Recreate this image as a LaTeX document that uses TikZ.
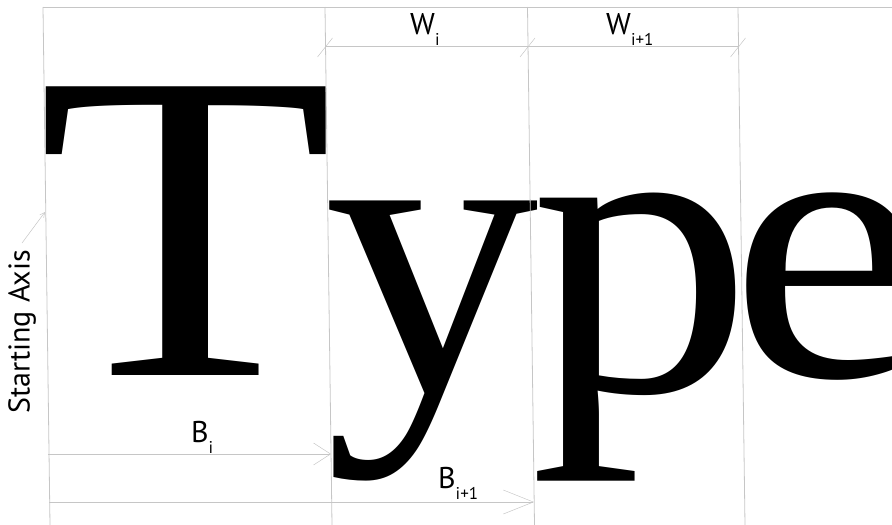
\documentclass[tikz,border=0pt]{standalone}
\usepackage{fontspec}
\usepackage{graphicx}
\setmainfont{PT Sans}
\newfontfamily\glyphfont{Liberation Serif}
\usetikzlibrary{arrows.meta}

\newcommand{\lowsub}[1]{\raisebox{-11pt}{\fontsize{17}{17}\selectfont #1}}

\begin{document}
\begin{tikzpicture}[x=1pt, y=-1pt,
    guide/.style={gray!45, line width=0.8pt},
    glyph/.style={inner sep=0pt, outer sep=0pt, anchor=north west, font=\glyphfont},
    lbl/.style={inner sep=0pt, anchor=base west, font=\fontsize{30}{30}\selectfont}]
    \useasboundingbox (0,0) rectangle (892,525);

    % the word, one letter per box
    \begin{scope}
    \clip (0,0) rectangle (892,525);
    \node[glyph] (T) at (37.8,87) {\resizebox{296pt}{288pt}{T}};
    \node[glyph] (y) at (324,201) {\resizebox*{214.7pt}{279pt}{y}};
    \node[glyph] (p) at (530.8,193) {\resizebox*{222.6pt}{287pt}{p}};
    \node[glyph] (e) at (729,193) {\resizebox*{196pt}{187pt}{e}};
    \end{scope}

    % axes
    \foreach \n/\x in {0/43, 1/325, 2/527.5, 3/738} {
        \coordinate (t\n) at (\x,7);
        \coordinate (b\n) at (\x+7,525);
        \draw[guide] (t\n) -- (b\n);
    }
    \coordinate (tr) at (892,7);
    \draw[guide] (t0) -- (tr);

    % widths
    \coordinate (w1) at (325.5,46);
    \coordinate (w2) at (528,46);
    \coordinate (w3) at (738.5,46);
    \draw[guide] (w1) -- (w3);
    \foreach \w in {w1,w2,w3} {
        \draw[guide, line width=0.5pt] (\w) ++(-8,11) -- ++(15,-19);
    }
    \node[lbl] (wi) at (410,34) {W\lowsub{i}};
    \node[lbl] (wj) at (606,34) {W\lowsub{i+1}};

    % advances
    \coordinate (bi0) at (48.3,454);
    \coordinate (bi) at (331,454);
    \draw[guide, -{Straight Barb[length=17pt, width=22pt, line width=0.5pt]}] (bi0) -- (bi);
    \node[lbl] (bil) at (191,442) {B\lowsub{i}};
    \coordinate (bj0) at (49,502);
    \coordinate (bj) at (534,502);
    \draw[guide, -{Straight Barb[length=30pt, width=24pt, line width=0.5pt]}] (bj0) -- (bj);
    \node[lbl] (bjl) at (438,488) {B\lowsub{i+1}};

    % starting axis
    \node[inner sep=0pt, rotate=90, font=\fontsize{30}{30}\selectfont] (axis) at (22,332) {Starting Axis};
    \coordinate (sa) at (45,212);
    \draw[guide, line width=0.5pt, -{Straight Barb[length=5pt, width=5pt]}] ([yshift=7pt]axis.east) -- (sa);
\end{tikzpicture}
\end{document}
